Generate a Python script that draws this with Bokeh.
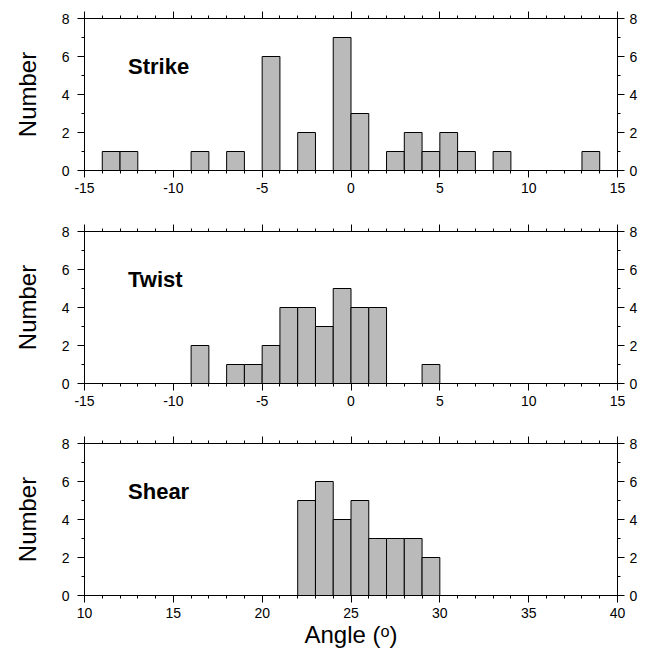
from bokeh.plotting import figure
from bokeh.models import LinearAxis, Range1d, FixedTicker
from bokeh.layouts import column
from bokeh.embed import file_html
from bokeh.resources import INLINE
from bokeh.core.properties import value

# ---- data (bin left edges, bin width 1 degree, counts) ----
strike_left = [-14, -13, -9, -7, -5, -3, -1, 0, 2, 3, 4, 5, 6, 8, 13]
strike_count = [1, 1, 1, 1, 6, 2, 7, 3, 1, 2, 1, 2, 1, 1, 1]

twist_left = [-9, -7, -6, -5, -4, -3, -2, -1, 0, 1, 4]
twist_count = [2, 1, 1, 2, 4, 4, 3, 5, 4, 4, 1]

shear_left = [22, 23, 24, 25, 26, 27, 28, 29]
shear_count = [5, 6, 4, 5, 3, 3, 3, 2]

bin_width = 1
panel_names = ["Strike", "Twist", "Shear"]
x_ranges = [(-15, 15), (-15, 15), (10, 40)]
x_ticks_major = [[-15, -10, -5, 0, 5, 10, 15], [-15, -10, -5, 0, 5, 10, 15], [10, 15, 20, 25, 30, 35, 40]]
y_ticks_major = [0, 2, 4, 6, 8]
y_label = "Number"
x_label = "Angle (\u1d52)"

FONT = "Liberation Sans"
FILL = "#bababa"


def style_axis(ax, labels=True):
    ax.axis_line_color = "black"
    ax.axis_line_width = 1
    ax.major_tick_line_color = "black"
    ax.minor_tick_line_color = "black"
    ax.major_tick_in = 0
    ax.major_tick_out = 7
    ax.minor_tick_in = 0
    ax.minor_tick_out = 3
    ax.major_label_text_font = FONT
    ax.major_label_text_color = "black"
    ax.major_label_text_font_size = "14px" if labels else "0px"
    if not labels:
        ax.major_label_text_alpha = 0
    ax.major_label_standoff = 5


def hyphen_labels(ticks):
    return {t: str(t) for t in ticks}


def make_panel(i, lefts, counts, height, top_b, bot_b, show_xlabel):
    x0, x1 = x_ranges[i]
    p = figure(width=648, height=height, output_backend="svg", toolbar_location=None,
               x_range=Range1d(x0, x1), y_range=Range1d(0, 8),
               min_border_left=84, min_border_right=31,
               min_border_top=top_b, min_border_bottom=bot_b,
               background_fill_color="white", border_fill_color="white")
    p.outline_line_color = "black"
    p.grid.visible = False

    xt = FixedTicker(ticks=x_ticks_major[i], minor_ticks=list(range(x0, x1 + 1)))
    yt = FixedTicker(ticks=y_ticks_major, minor_ticks=list(range(0, 9)))

    # bottom axis
    p.xaxis.ticker = xt
    style_axis(p.xaxis[0], labels=True)
    p.xaxis.major_label_overrides = hyphen_labels(x_ticks_major[i])
    # left axis
    p.yaxis.ticker = yt
    style_axis(p.yaxis[0], labels=True)
    p.yaxis.major_label_standoff = 8
    p.yaxis.axis_label = y_label
    p.yaxis.axis_label_text_font = FONT
    p.yaxis.axis_label_text_font_style = "normal"
    p.yaxis.axis_label_text_font_size = "24px"
    p.yaxis.axis_label_standoff = 18
    p.yaxis.axis_label_text_color = "black"

    if show_xlabel:
        p.xaxis.axis_label = x_label
        p.xaxis.axis_label_text_font = FONT
        p.xaxis.axis_label_text_font_style = "normal"
        p.xaxis.axis_label_text_font_size = "24px"
        p.xaxis.axis_label_standoff = 0
        p.xaxis.axis_label_text_color = "black"

    # top axis (ticks only)
    top = LinearAxis(ticker=FixedTicker(ticks=x_ticks_major[i], minor_ticks=list(range(x0, x1 + 1))))
    style_axis(top, labels=False)
    p.add_layout(top, "above")
    # right axis
    right = LinearAxis(ticker=FixedTicker(ticks=y_ticks_major, minor_ticks=list(range(0, 9))))
    style_axis(right, labels=True)
    p.add_layout(right, "right")

    rights = [l + bin_width for l in lefts]
    p.quad(left=lefts, right=rights, bottom=0, top=counts,
           fill_color=FILL, line_color="black", line_width=1)

    p.text(x=[x0 + 2.45], y=[5.5], text=[panel_names[i]],
           text_font=value(FONT), text_font_style="bold", text_font_size="22px",
           text_color="black", text_align="left", text_baseline="alphabetic")
    return p


p1 = make_panel(0, strike_left, strike_count, 200, 18, 30, False)
p2 = make_panel(1, twist_left, twist_count, 213, 31, 30, False)
p3 = make_panel(2, shear_left, shear_count, 248, 30, 66, True)

layout = column(p1, p2, p3, spacing=0)

open("out.html", "w").write(file_html(layout, INLINE))
